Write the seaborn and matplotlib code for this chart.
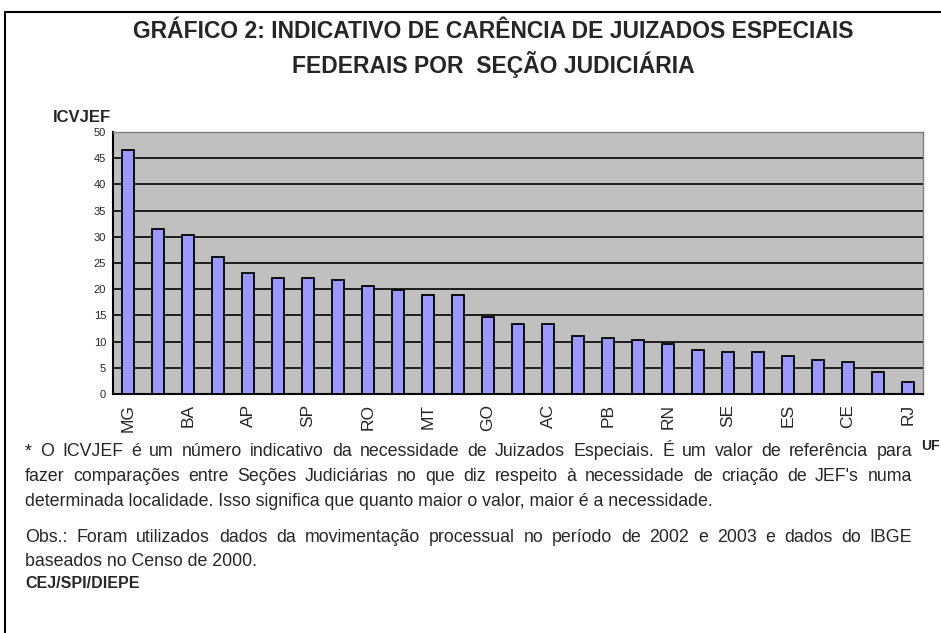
import numpy as np
import pandas as pd
import matplotlib
matplotlib.use("Agg")
import matplotlib.pyplot as plt
import seaborn as sns
from matplotlib.lines import Line2D

# Valores do ICVJEF por seção judiciária (só metade das UFs aparece no eixo)
uf_labels = ["MG", "", "BA", "", "AP", "", "SP", "", "RO", "", "MT", "", "GO", "",
             "AC", "", "PB", "", "RN", "", "SE", "", "ES", "", "CE", "", "RJ"]
icvjef = [46.5, 31.4, 30.3, 26.1, 23.0, 22.2, 22.2, 21.8, 20.7, 19.9, 18.8, 18.8, 14.6, 13.4,
          13.4, 11.1, 10.7, 10.3, 9.6, 8.4, 8.0, 8.0, 7.2, 6.5, 6.1, 4.2, 2.2]
y_ticks = [0, 5, 10, 15, 20, 25, 30, 35, 40, 45, 50]

title_lines = ["GRÁFICO 2: INDICATIVO DE CARÊNCIA DE JUIZADOS ESPECIAIS",
               "FEDERAIS POR  SEÇÃO JUDICIÁRIA"]
nota1 = ["* O ICVJEF  é um número indicativo da necessidade de Juizados Especiais. É um valor de referência para",
         "fazer comparações entre Seções Judiciárias no que diz  respeito à necessidade de criação de JEF's numa",
         "determinada localidade. Isso significa que quanto maior o valor, maior é a necessidade."]
nota2 = ["Obs.: Foram utilizados dados da movimentação processual no período de 2002 e 2003 e dados do IBGE",
         "baseados no Censo de 2000."]
fonte = "CEJ/SPI/DIEPE"

df = pd.DataFrame({"pos": np.arange(len(icvjef)), "valor": icvjef})

sns.set_style("white")
plt.rcParams["font.family"] = ["Liberation Sans", "DejaVu Sans"]

W, H = 941, 633
fig = plt.figure(figsize=(W / 100, H / 100), dpi=100)
ax = fig.add_axes([113 / W, 1 - 394 / H, 810 / W, 262 / H])
renderer = fig.canvas.get_renderer()


def tamanho_para(texto, largura, **kw):
    # tamanho de fonte que dá a largura desejada em pixels
    t = fig.text(0, 0, texto, fontsize=10, **kw)
    w = t.get_window_extent(renderer).width
    t.remove()
    return 10 * largura / w


sns.barplot(data=df, x="pos", y="valor", color="#9999FF", saturation=1,
            edgecolor="black", linewidth=1.3, width=0.42, ax=ax, zorder=3)

ax.set_facecolor("#C0C0C0")
ax.set_ylim(0, 50)
ax.set_xlim(-0.5, len(icvjef) - 0.5)
ax.set_yticks(y_ticks)
ax.set_yticklabels([str(t) for t in y_ticks], fontsize=8)
for t in y_ticks[1:-1]:
    ax.axhline(t, color="black", lw=1.2, zorder=1)

ax.set_xticks(np.arange(len(icvjef)))
ax.set_xticklabels(uf_labels, rotation=90, fontsize=12.5)
ax.tick_params(axis="x", which="major", length=0, pad=7)
ax.set_xticks(np.arange(len(icvjef) + 1) - 0.5, minor=True)
ax.tick_params(axis="x", which="minor", length=4, width=1.2, direction="out", color="black")
ax.tick_params(axis="y", length=4, width=1, direction="out", color="black", pad=1)

for side in ["left", "bottom"]:
    ax.spines[side].set_color("black")
    ax.spines[side].set_linewidth(1.5)
for side in ["top", "right"]:
    ax.spines[side].set_color("#808080")
    ax.spines[side].set_linewidth(1)
ax.set_xlabel("")
ax.set_ylabel("")

# moldura
fig.add_artist(Line2D([5 / W, 1.0], [1 - 12 / H, 1 - 12 / H], color="black", lw=1.5))
fig.add_artist(Line2D([5 / W, 5 / W], [1 - 12 / H, 0], color="black", lw=1.5))

fs_tit = tamanho_para(title_lines[0], 720, fontweight="bold")
fig.text(493 / W, 1 - 31 / H, title_lines[0], ha="center", va="center",
         fontsize=fs_tit, fontweight="bold")
fig.text(493 / W, 1 - 64 / H, title_lines[1], ha="center", va="center",
         fontsize=fs_tit, fontweight="bold")
fig.text(53 / W, 1 - 118 / H, "ICVJEF", ha="left", va="center",
         fontsize=tamanho_para("ICVJEF", 58, fontweight="bold"), fontweight="bold")
fig.text(940 / W, 1 - 446 / H, "UF", ha="right", va="center", fontsize=10, fontweight="bold")

x0, x1 = 25, 912
fs_nota = tamanho_para(nota1[2], 693)


def linha(texto, y, justificar):
    if not justificar:
        fig.text(x0 / W, 1 - y / H, texto, ha="left", va="center", fontsize=fs_nota)
        return
    palavras = texto.split()
    larg = []
    for p in palavras:
        t = fig.text(0, 0, p, fontsize=fs_nota)
        larg.append(t.get_window_extent(renderer).width)
        t.remove()
    espaco = (x1 - x0 - sum(larg)) / (len(palavras) - 1)
    x = x0
    for p, w in zip(palavras, larg):
        fig.text(x / W, 1 - y / H, p, ha="left", va="center", fontsize=fs_nota)
        x += w + espaco


for i, l in enumerate(nota1):
    linha(l, 452 + 24.5 * i, i < len(nota1) - 1)
for i, l in enumerate(nota2):
    linha(l, 537 + 24.5 * i, i < len(nota2) - 1)
fig.text(x0 / W, 1 - 584 / H, fonte, ha="left", va="center",
         fontsize=11.5, fontweight="bold")

fig.savefig("out.png", dpi=100)
